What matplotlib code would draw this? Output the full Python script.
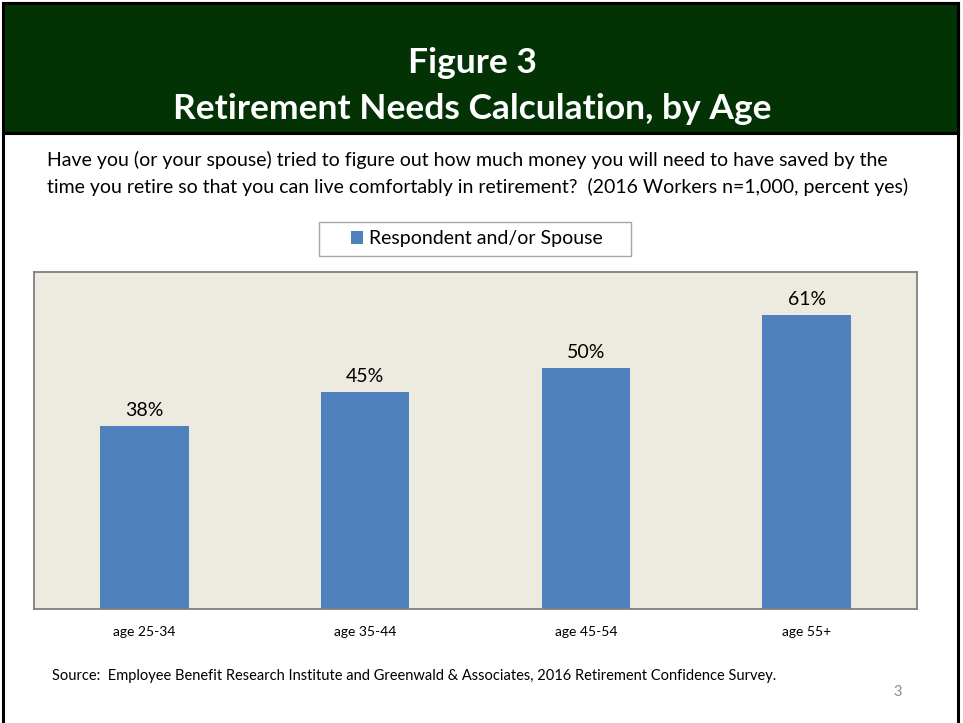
import matplotlib.pyplot as plt
from matplotlib.patches import Rectangle

categories = ["age 25-34", "age 35-44", "age 45-54", "age 55+"]
values = [38, 45, 50, 61]
series_name = "Respondent and/or Spouse"

W, H = 963, 723
plt.rcParams["font.family"] = ["Lato", "DejaVu Sans"]

fig = plt.figure(figsize=(W / 100, H / 100), dpi=100)
fig.patch.set_facecolor("white")


def fx(px):
    return px / W


def fy(py):
    return 1 - py / H


# slide frame and green header
fig.patches.append(Rectangle((fx(3), fy(730)), fx(955), (730 - 3) / H,
                             transform=fig.transFigure, fill=False,
                             edgecolor="black", linewidth=2.2, zorder=0))
fig.patches.append(Rectangle((fx(3), fy(133)), fx(955), 130 / H,
                             transform=fig.transFigure, facecolor="#033304",
                             edgecolor="black", linewidth=2.2, zorder=1))
fig.text(fx(472), fy(63), "Figure 3", ha="center", va="center",
         color="white", fontsize=25.5, fontweight="bold")
fig.text(fx(472), fy(109), "Retirement Needs Calculation, by Age", ha="center",
         va="center", color="white", fontsize=25.5, fontweight="bold")

fig.text(fx(47), fy(160),
         "Have you (or your spouse) tried to figure out how much money you will need to have saved by the",
         ha="left", va="center", fontsize=14, color="black")
fig.text(fx(47), fy(187),
         "time you retire so that you can live comfortably in retirement?  (2016 Workers n=1,000, percent yes)",
         ha="left", va="center", fontsize=14, color="black")

ax = fig.add_axes([fx(34), fy(609), fx(883), 337 / H])
ax.set_facecolor("#EDEADF")
bars = ax.bar(range(len(categories)), values, width=0.4, color="#4F81BD",
              label=series_name, zorder=2)
ax.set_xlim(-0.5, len(categories) - 0.5)
ax.set_ylim(0, 70)
ax.set_yticks([])
ax.set_xticks(range(len(categories)))
ax.set_xticklabels(categories, fontsize=10)
ax.tick_params(axis="x", length=0, pad=12)
for s in ax.spines.values():
    s.set_color("#7F7F7F")
    s.set_linewidth(1.3)

for b, v in zip(bars, values):
    ax.annotate(f"{v}%", (b.get_x() + b.get_width() / 2, v),
                xytext=(0, 5), textcoords="offset points",
                ha="center", va="bottom", fontsize=14)

# legend box drawn wider than the legend itself, as in the original slide
fig.patches.append(Rectangle((fx(319), fy(256)), fx(312), 34 / H,
                             transform=fig.transFigure, facecolor="white",
                             edgecolor="#A6A6A6", linewidth=1.0))
fig.legend(loc="center", bbox_to_anchor=(fx(477), fy(239)),
           fontsize=14, frameon=False,
           handlelength=0.6, handleheight=0.6, handletextpad=0.35,
           borderpad=0.3, borderaxespad=0)

fig.text(fx(52), fy(676),
         "Source:  Employee Benefit Research Institute and Greenwald & Associates, 2016 Retirement Confidence Survey.",
         ha="left", va="center", fontsize=10.5, color="black")
fig.text(fx(898), fy(692), "3", ha="center", va="center", fontsize=10.5,
         color="#8C8C8C")

fig.savefig("out.png", dpi=100, facecolor="white")
